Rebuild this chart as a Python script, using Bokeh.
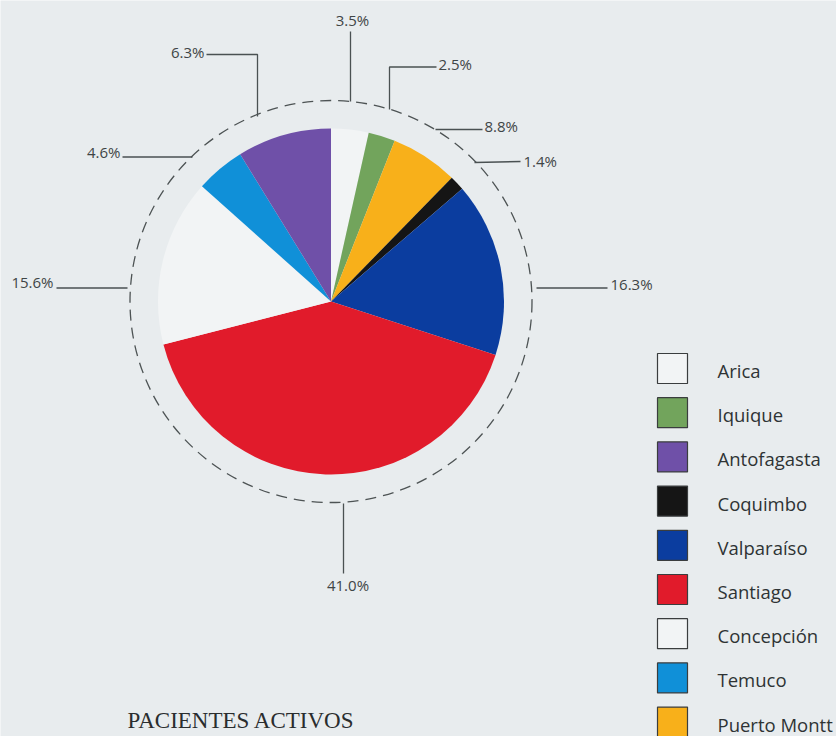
import math
from bokeh.plotting import figure
from bokeh.models import Range1d, ColumnDataSource
from bokeh.core.properties import value
from bokeh.embed import file_html
from bokeh.resources import INLINE

# ---------------- data ----------------
# legend order
regions = ["Arica", "Iquique", "Antofagasta", "Coquimbo", "Valparaíso",
           "Santiago", "Concepción", "Temuco", "Puerto Montt"]
region_colors = ["#f2f4f5", "#72a45c", "#6f50a8", "#151515", "#0b3d9f",
                 "#e11b2b", "#f2f4f5", "#1090d8", "#f8b01a"]

# slices, clockwise from 12 o'clock (shares as drawn in the chart)
slice_regions = ["Arica", "Iquique", "Puerto Montt", "Coquimbo", "Valparaíso",
                 "Santiago", "Concepción", "Temuco", "Antofagasta"]
slice_share = [3.5, 2.5, 6.3, 1.4, 16.3, 41.0, 15.6, 4.6, 8.8]
# percentage labels as printed next to each slice
slice_labels = ["3.5%", "2.5%", "8.8%", "1.4%", "16.3%", "41.0%", "15.6%", "4.6%", "6.3%"]

title_text = "PACIENTES ACTIVOS"

# ---------------- layout (picture pixel coords, y downward) ----------------
W, H = 836, 736
def X(px):
    return px
def Y(py):
    return H - py

CX, CY = 330.5, 301.0
R_PIE = 173
R_RING = 201

# leader polylines and label anchors for each slice label (same order as slice_labels)
leader_paths = [
    [(350, 101), (350, 31)],
    [(389, 109), (389, 66.5), (436, 66.5)],
    [(435, 129), (482, 129)],
    [(474, 162), (520, 161)],
    [(536, 287.5), (607, 287.5)],
    [(343, 503), (343, 573)],
    [(127, 287.5), (56, 287.5)],
    [(192, 156.5), (122, 156.5)],
    [(257, 116), (257, 54), (206, 54)],
]
label_pos = [(352, 19), (438, 63.5), (484, 125.5), (523, 160.5), (610, 283.5),
             (347.5, 584.5), (53, 281.5), (120, 151.5), (204, 51.5)]
label_align = ["center", "left", "left", "left", "left", "center", "right", "right", "right"]

LEG_X0, LEG_Y0, LEG_STEP, LEG_SQ = 672, 368, 44.2, 30
LEG_TX = 717

BG = "#e8ecee"
INK = "#3f4546"

p = figure(width=W, height=H, output_backend="svg", toolbar_location=None,
           x_range=Range1d(0, W), y_range=Range1d(0, H), min_border=0,
           background_fill_color=BG, border_fill_color=BG, outline_line_color=None)
p.axis.visible = False
p.grid.visible = False

# ---------------- pie ----------------
color_of = dict(zip(regions, region_colors))
starts, ends, cols = [], [], []
acc = 0.0
total = sum(slice_share)
for name, s in zip(slice_regions, slice_share):
    t0 = acc / total * 2 * math.pi
    acc += s
    t1 = acc / total * 2 * math.pi
    starts.append(math.pi / 2 - t0)
    ends.append(math.pi / 2 - t1)
    cols.append(color_of[name])

pie_src = ColumnDataSource(dict(
    x=[X(CX)] * len(slice_share), y=[Y(CY)] * len(slice_share),
    start=starts, end=ends, color=cols, name=slice_regions, share=slice_share))
p.wedge(x="x", y="y", radius=R_PIE, start_angle="start", end_angle="end",
        direction="clock", fill_color="color", line_color=None, source=pie_src)

# dashed ring
p.circle(x=[X(CX)], y=[Y(CY)], radius=R_RING, fill_color=None,
         line_color="#4d5354", line_width=1.3, line_dash="11 7")

# leaders
p.multi_line(xs=[[X(a) for a, b in path] for path in leader_paths],
             ys=[[Y(b) for a, b in path] for path in leader_paths],
             line_color="#4a5152", line_width=1.3)

for txt, (lx, ly), al in zip(slice_labels, label_pos, label_align):
    p.text(x=[X(lx)], y=[Y(ly)], text=[txt], text_font=value("Open Sans"),
           text_font_size="15px", text_color=INK, text_align=al,
           text_baseline="middle")

# ---------------- legend ----------------
leg_y = [Y(LEG_Y0 + i * LEG_STEP) for i in range(len(regions))]
p.rect(x=[X(LEG_X0)] * len(regions), y=leg_y, width=LEG_SQ, height=LEG_SQ,
       fill_color=region_colors, line_color="#3a3d3e", line_width=1.2)
p.text(x=[X(LEG_TX)] * len(regions), y=[v - 2 for v in leg_y], text=regions,
       text_font=value("Open Sans"), text_font_size="18.5px", text_color="#2e3334",
       text_align="left", text_baseline="middle")

# ---------------- title ----------------
p.text(x=[X(127)], y=[Y(720)], text=[title_text], text_font=value("Liberation Serif"),
       text_font_size="23px", text_color="#2a2d2e", text_align="left",
       text_baseline="middle")

open("out.html", "w").write(file_html(p, INLINE))
